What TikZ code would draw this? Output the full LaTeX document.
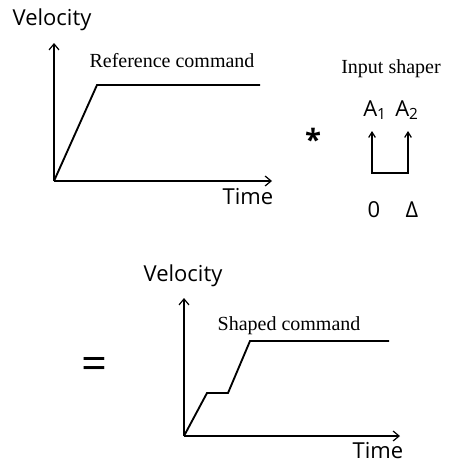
\documentclass[tikz,border=0pt]{standalone}
\usepackage{fontspec}
\setmainfont{Liberation Serif}
\newfontfamily\labelfont{Open Sans}
\usetikzlibrary{arrows.meta}

\begin{document}
\begin{tikzpicture}[x=0.75pt,y=-0.75pt,
  axis/.style={line width=0.9pt,-{Straight Barb[length=4.5pt,width=7.5pt]}},
  impulse/.style={line width=0.9pt,{Straight Barb[length=4pt,width=5pt]}-{Straight Barb[length=4pt,width=5pt]}},
  curve/.style={line width=1.4pt,line join=miter},
  sanslabel/.style={font=\labelfont\fontsize{16.5}{16.5}\selectfont,anchor=base,inner sep=0pt},
  seriflabel/.style={font=\fontsize{15}{15}\selectfont,anchor=base,inner sep=0pt}]
  \useasboundingbox (0,0) rectangle (449,464);

  \coordinate (o1) at (54,181);
  \coordinate (v1) at (54,43);
  \coordinate (t1) at (272,181);
  \draw[axis] (o1) -- (v1);
  \draw[axis] (o1) -- (t1);
  \draw[curve] (o1) -- (97,85) -- (260,85);
  \node[sanslabel] (vel1) at (52,26) {Velocity};
  \node[sanslabel] (time1) at (248,204) {Time};
  \node[seriflabel] (refcmd) at (172,67) {Reference command};

  \node[font=\labelfont\bfseries\fontsize{22}{22}\selectfont,anchor=base,inner sep=0pt] (conv) at (313,150) {*};
  \node[seriflabel] (shaper) at (391,73) {Input shaper};
  \coordinate (tip1) at (372,131);
  \coordinate (tip2) at (408,131);
  \coordinate (base1) at (372,173);
  \coordinate (base2) at (408,173);
  \draw[impulse] (tip1) -- (base1) -- (base2) -- (tip2);
  \node[sanslabel] (amp1) at (375,116) {A\textsubscript{1}};
  \node[sanslabel] (amp2) at (407,116) {A\textsubscript{2}};
  \node[sanslabel] (zero) at (374,217) {0};
  \node[sanslabel] (delay) at (412,217) {Δ};

  \node[font=\labelfont\fontsize{34}{34}\selectfont,anchor=base,inner sep=0pt] (eq) at (94,379) {=};

  \coordinate (o2) at (184,436);
  \coordinate (v2) at (184,298);
  \coordinate (t2) at (400,436);
  \draw[axis] (o2) -- (v2);
  \draw[axis] (o2) -- (t2);
  \draw[curve] (o2) -- (207,393) -- (228,393) -- (250,341) -- (389,341);
  \node[sanslabel] (vel2) at (183,281) {Velocity};
  \node[sanslabel] (time2) at (378,458) {Time};
  \node[seriflabel] (shapedcmd) at (289,330) {Shaped command};
\end{tikzpicture}
\end{document}
